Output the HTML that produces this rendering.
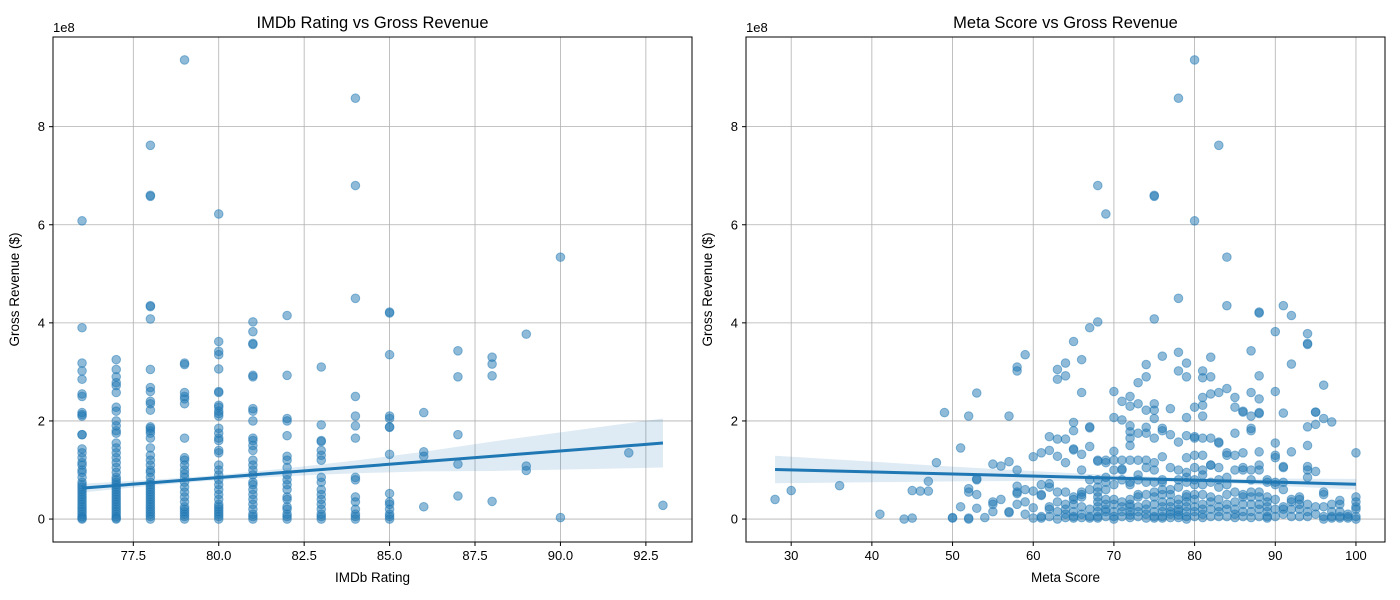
<!DOCTYPE html>
<html><head><meta charset="utf-8"><style>
body{margin:0;background:#fff;}
svg{display:block;font-family:"Liberation Sans","DejaVu Sans",sans-serif;}
</style></head><body>
<svg id="chart" width="1400" height="600" viewBox="0 0 1400 600" xmlns="http://www.w3.org/2000/svg"></svg>
<script>
// ---- Left panel data: IMDb rating columns -> gross ($M)
const imdbRatings = [76,77,78,79,80,81,82,83,84,85,86,87,88,89,90,92,93];
const imdbGross = [
 [608,390,318,302,285,255,250,217,213,210,172,172,143,135,125,115,110,100,95,85,75,70,65,60,55,50,45,40,35,30,25,20,15,10,5,2,0],
 [325,305,290,278,272,258,228,220,200,190,180,175,155,145,135,125,115,105,95,85,80,75,70,65,60,55,50,45,40,35,30,25,20,15,10,5,2,0],
 [762,660,658,435,433,408,305,268,260,240,235,222,188,185,180,175,165,145,130,120,110,100,95,85,75,70,65,60,55,50,45,40,35,30,25,20,15,10,5,0],
 [936,318,315,258,250,245,235,165,125,120,110,100,92,85,75,65,55,45,35,25,20,15,10,5,0],
 [622,362,342,335,306,260,258,232,228,220,215,210,185,175,165,160,140,135,110,100,90,80,70,60,50,40,30,25,20,15,10,5,0],
 [402,382,358,356,293,290,225,220,200,165,160,150,140,120,110,100,90,75,70,60,50,40,30,20,10,5,0],
 [415,293,205,200,170,128,120,105,90,80,70,60,45,40,25,20,10,5,0],
 [310,192,160,158,140,130,120,85,75,60,50,40,30,20,10,5,0],
 [858,680,450,250,210,190,165,85,80,45,35,20,10,5,0],
 [422,420,335,210,205,188,187,132,52,35,30,20,10,5,0],
 [217,137,128,25],
 [343,290,172,112,47],
 [330,316,292,36],
 [377,108,99],
 [534,3],
 [135],
 [28]
];
const imdbFitX = [76,93];
const imdbFitY = [63,155];
const imdbBandX = [76,78,80,82,84,86,88,90,93];
const imdbBandHalf = [9,6,5,8,13,20,30,38,50];
const imdbXTicks = [77.5,80.0,82.5,85.0,87.5,90.0,92.5];
const imdbXTickLabels = ["77.5","80.0","82.5","85.0","87.5","90.0","92.5"];

// ---- Right panel data: Meta score columns -> gross ($M)
const metaScores = [28,30,36,41,44,45,46,47,48,49,50,51,52,53,54,55,56,57,58,59,60,61,62,63,64,65,66,67,68,69,70,71,72,73,74,75,76,77,78,79,80,81,82,83,84,85,86,87,88,89,90,91,92,93,94,95,96,97,98,99,100];
const metaGross = [
 [40],[58],[68],[10],[0],[2,58],[57],[57,77],[115],[217],[3,2],[145,25],[210,62,55,2,0],[257,82,80,50,22],[3],[112,35,30,15],[108,40],[210,117,15,13],[310,302,100,67,55,52,30],[335,60,35,10],
 [127,57,23,2],[135,70,50,48,5,2],[168,140,72,65,25,20,5],[305,285,163,128,55,35,15,0],[318,292,163,115,55,30,20,10,3],
 [362,197,180,143,141,45,40,30,15,5,2],[325,258,132,100,55,50,45,25,10,3],[390,188,186,148,80,60,20,5,2],
 [680,402,120,118,80,65,55,45,35,25,15,5,2],[622,120,115,85,75,60,40,30,20,15,5],[260,207,138,120,100,70,40,30,15,5,0],
 [240,202,120,102,100,80,35,25,15,5],[250,230,190,178,165,150,120,75,70,40,30,25,15,8,3],[278,235,175,120,90,80,50,45,25,15,5],
 [315,290,222,187,175,120,105,75,50,30,20,10,2],[660,658,408,235,222,205,165,115,100,75,55,45,30,15,5,2],
 [332,185,180,127,80,75,60,50,35,25,15,5,2],[225,172,105,60,50,35,25,15,10,3],[858,450,340,302,157,100,80,65,40,30,20,15,8,3],
 [318,290,207,170,125,95,85,75,50,45,35,25,15,5,0],[936,608,228,168,165,130,105,80,70,50,40,25,15,5],
 [302,288,248,232,210,165,130,100,90,70,50,30,20,10,3],[330,290,255,165,110,110,75,45,35,20,5],[762,258,157,155,105,80,65,40,25,15,5],
 [534,435,266,135,130,85,70,50,30,20,5],[248,228,175,130,100,55,35,20,10,3],[220,218,135,105,100,50,45,30,15,5],
 [343,258,210,185,180,100,80,55,45,30,15,3],[422,420,292,245,217,215,137,110,100,55,45,30,20,5],[80,75,45,35,25,15,5,2],
 [382,260,155,130,125,75,70,40,20,5],[435,216,107,105,75,60,25,20,10],[415,316,137,40,35,20,5],[45,40,30,20,5],
 [378,358,356,188,150,107,100,85,30,15,5],[218,218,193,97,25,10],[273,205,55,50,25,5,0],[198,30,15,5,2],[38,30,15,5,2],[10,5,2],
 [135,45,35,25,20,5,0]
];
const metaFitX = [28,100];
const metaFitY = [101,71];
const metaBandX = [28,40,50,60,70,78,85,92,100];
const metaBandHalf = [28,21,15,10,6,4,5,8,11];
const metaXTicks = [30,40,50,60,70,80,90,100];
const metaXTickLabels = ["30","40","50","60","70","80","90","100"];

const yTicks = [0,200,400,600,800];
const yTickLabels = ["0","2","4","6","8"];

const NS = "http://www.w3.org/2000/svg";
const svg = document.getElementById('chart');
function mk(tag, attrs, parent){const e=document.createElementNS(NS,tag);for(const k in attrs)e.setAttribute(k,attrs[k]);(parent||svg).appendChild(e);return e;}

function panel(cfg){
  const {L,R,T,B,xmin,xmax,ymin,ymax} = cfg;
  const sx = v => L + (v-xmin)/(xmax-xmin)*(R-L);
  const sy = v => B - (v-ymin)/(ymax-ymin)*(B-T);
  const g = mk('g',{});
  
  
  // grid
  cfg.xTicks.forEach((t,i)=>{
    const l = mk('line',{x1:sx(t),x2:sx(t),y1:T,y2:B,stroke:'#b0b0b0','stroke-width':0.8},g);
    
    
  });
  yTicks.forEach(t=>{
    const l = mk('line',{x1:L,x2:R,y1:sy(t),y2:sy(t),stroke:'#b0b0b0','stroke-width':0.8},g);
    
    
  });
  // points
  const pg = mk('g',{fill:'#1f77b4','fill-opacity':0.5,stroke:'#1f77b4','stroke-opacity':0.5,'stroke-width':1},g);
  
  
  cfg.xs.forEach((x,i)=>{
    cfg.ys[i].forEach(y=>{
      const c = mk('circle',{cx:sx(x),cy:sy(y),r:4.3},pg);
      
      
    });
  });
  // band
  const fy = x => cfg.fitY[0] + (x-cfg.fitX[0])/(cfg.fitX[1]-cfg.fitX[0])*(cfg.fitY[1]-cfg.fitY[0]);
  let up=[],lo=[];
  cfg.bandX.forEach((x,i)=>{up.push(sx(x)+','+sy(fy(x)+cfg.bandHalf[i]));lo.unshift(sx(x)+','+sy(fy(x)-cfg.bandHalf[i]));});
  const band = mk('polygon',{points:up.concat(lo).join(' '),fill:'#1f77b4','fill-opacity':0.15},g);
  
  
  const fl = mk('line',{x1:sx(cfg.fitX[0]),y1:sy(cfg.fitY[0]),x2:sx(cfg.fitX[1]),y2:sy(cfg.fitY[1]),stroke:'#1f77b4','stroke-width':3},g);
  
  
  // frame
  const fr = mk('rect',{x:L,y:T,width:R-L,height:B-T,fill:'none',stroke:'#000','stroke-width':1},g);
  
  
  // ticks
  cfg.xTicks.forEach((t,i)=>{
    mk('line',{x1:sx(t),x2:sx(t),y1:B,y2:B+4,stroke:'#000'},g);
    const tx = mk('text',{x:sx(t),y:B+18,'text-anchor':'middle','font-size':13,fill:'#000'},g);
    tx.textContent = cfg.xTickLabels[i];
    
    
  });
  yTicks.forEach((t,i)=>{
    mk('line',{x1:L-4,x2:L,y1:sy(t),y2:sy(t),stroke:'#000'},g);
    const tx = mk('text',{x:L-8,y:sy(t)+4.5,'text-anchor':'end','font-size':13,fill:'#000'},g);
    tx.textContent = yTickLabels[i];
    
    
  });
  const off = mk('text',{x:L,y:T-5,'font-size':13,fill:'#000'},g);
  off.textContent='1e8';
  
  
  const ti = mk('text',{x:(L+R)/2,y:T-9,'text-anchor':'middle','font-size':16.5,fill:'#000'},g);
  ti.textContent = cfg.title;
  
  
  const xl = mk('text',{x:(L+R)/2,y:B+40,'text-anchor':'middle','font-size':13.5,fill:'#000'},g);
  xl.textContent = cfg.xlabel;
  
  
  const yl = mk('text',{x:0,y:0,'text-anchor':'middle','font-size':13.5,fill:'#000',transform:`translate(${L-34},${(T+B)/2}) rotate(-90)`},g);
  yl.textContent = 'Gross Revenue ($)';
  
  
}

panel({name:'imdb-panel',L:53,R:692,T:37,B:542,xmin:75.15,xmax:93.85,ymin:-46.8,ymax:982.8,
  xs:imdbRatings,ys:imdbGross,fitX:imdbFitX,fitY:imdbFitY,bandX:imdbBandX,bandHalf:imdbBandHalf,
  xTicks:imdbXTicks,xTickLabels:imdbXTickLabels,title:'IMDb Rating vs Gross Revenue',xlabel:'IMDb Rating'});
panel({name:'meta-panel',L:746,R:1385,T:37,B:542,xmin:24.4,xmax:103.6,ymin:-46.8,ymax:982.8,
  xs:metaScores,ys:metaGross,fitX:metaFitX,fitY:metaFitY,bandX:metaBandX,bandHalf:metaBandHalf,
  xTicks:metaXTicks,xTickLabels:metaXTickLabels,title:'Meta Score vs Gross Revenue',xlabel:'Meta Score'});
</script>
</body></html>
